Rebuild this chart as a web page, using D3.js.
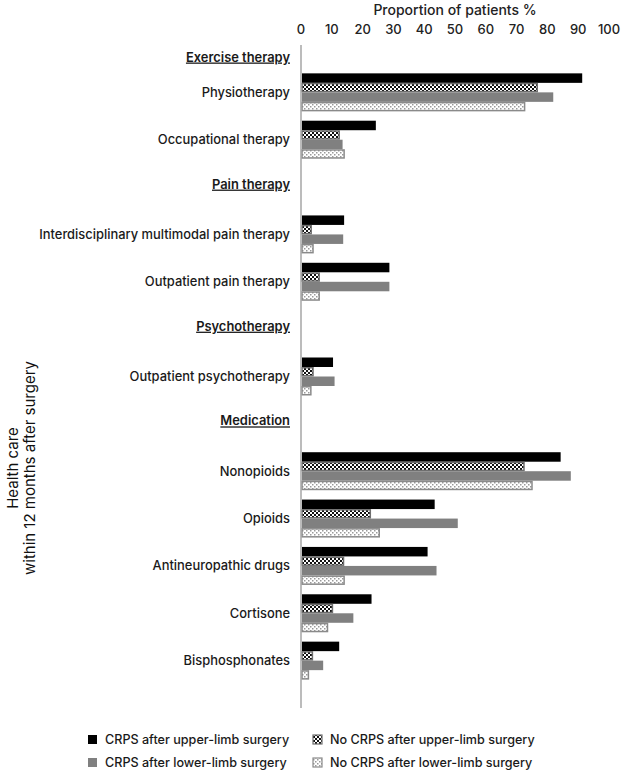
<!DOCTYPE html>
<html>
<head>
<meta charset="utf-8">
<script src="https://cdn.jsdelivr.net/npm/d3@7"></script>
<style>
  body { margin: 0; background: #fff; }
  svg { display: block; font-family: Inter, "Open Sans", sans-serif; }
</style>
</head>
<body>
<div id="chart"></div>
<script>
// health care within 12 months after surgery

const categories = ["Exercise therapy", "Physiotherapy", "Occupational therapy", "Pain therapy",
  "Interdisciplinary multimodal pain therapy", "Outpatient pain therapy", "Psychotherapy",
  "Outpatient psychotherapy", "Medication", "Nonopioids", "Opioids", "Antineuropathic drugs",
  "Cortisone", "Bisphosphonates"];
const headers = ["Exercise therapy", "Pain therapy", "Psychotherapy", "Medication"];

const seriesNames = ["CRPS after upper-limb surgery", "No CRPS after upper-limb surgery",
  "CRPS after lower-limb surgery", "No CRPS after lower-limb surgery"];

const crpsUpper   = [null, 91.3, 24.3, null, 14.0, 28.7, null, 10.4, null, 84.3, 43.4, 41.1, 22.9, 12.4];
const noCrpsUpper = [null, 76.7, 12.4, null, 3.3, 5.9, null, 3.9, null, 72.4, 22.5, 13.8, 10.2, 3.7];
const crpsLower   = [null, 81.9, 13.5, null, 13.7, 28.7, null, 10.9, null, 87.6, 50.9, 44.0, 17.0, 7.2];
const noCrpsLower = [null, 72.6, 14.0, null, 3.9, 5.9, null, 3.2, null, 75.0, 25.4, 14.0, 8.6, 2.4];

const xTicks = [0, 10, 20, 30, 40, 50, 60, 70, 80, 90, 100];

const width = 622;
const height = 773;
const svg = d3.select("#chart")
  .append("svg")
  .attr("width", width)
  .attr("height", height);

const defs = svg.append("defs");

// dark checker for no CRPS upper
const p1 = defs.append("pattern")
  .attr("id", "patUpper")
  .attr("patternUnits", "userSpaceOnUse")
  .attr("width", 4).attr("height", 4);
p1.append("rect").attr("width", 4).attr("height", 4).attr("fill", "#fff");
p1.append("rect").attr("x", 0).attr("y", 0).attr("width", 2).attr("height", 2).attr("fill", "#111");
p1.append("rect").attr("x", 2).attr("y", 2).attr("width", 2).attr("height", 2).attr("fill", "#111");

// light dots for no CRPS lower
const p2 = defs.append("pattern")
  .attr("id", "patLower")
  .attr("patternUnits", "userSpaceOnUse")
  .attr("width", 4).attr("height", 4);
p2.append("rect").attr("width", 4).attr("height", 4).attr("fill", "#fff");
p2.append("rect").attr("x", 0).attr("y", 0).attr("width", 1.5).attr("height", 1.5).attr("fill", "#9a9a9a");
p2.append("rect").attr("x", 2).attr("y", 2).attr("width", 1.5).attr("height", 1.5).attr("fill", "#9a9a9a");

const fills = ["#000", "url(#patUpper)", "#808080", "url(#patLower)"];
const strokes = ["none", "#6e6e6e", "none", "#8a8a8a"];

const x = d3.scaleLinear().domain([0, 100]).range([301, 609]);

// categories sit on tick marks, one empty slot at the end
const y = d3.scalePoint().domain(categories.concat([""])).range([45, 708]);

const sub = d3.scaleBand().domain(d3.range(4)).range([-19, 19]).padding(0);

// top axis
svg.append("text")
  .attr("x", 455).attr("y", 15)
  .attr("text-anchor", "middle")
  .attr("font-size", "14px")
  .attr("font-weight", 500)
  .attr("fill", "#222")
  .text("Proportion of patients %");

svg.selectAll(".tick-label")
  .data(xTicks)
  .enter()
  .append("text")
  .attr("class", "tick-label")
  .attr("x", d => x(d))
  .attr("y", 34)
  .attr("text-anchor", "middle")
  .attr("font-size", "13px")
  .attr("font-weight", 500)
  .attr("fill", "#222")
  .text(d => d);

// bars
const rows = [];
categories.forEach((c, i) => {
  [crpsUpper, noCrpsUpper, crpsLower, noCrpsLower].forEach((s, j) => {
    if (s[i] != null) rows.push({ cat: c, s: j, v: s[i] });
  });
});

svg.selectAll(".bar")
  .data(rows)
  .enter()
  .append("rect")
  .attr("class", "bar")
  .attr("x", x(0) + 1)
  .attr("y", d => y(d.cat) + sub(d.s) + (d.s % 2 ? 0.75 : 0))
  .attr("width", d => x(d.v) - x(0) - 1)
  .attr("height", d => sub.bandwidth() - (d.s % 2 ? 1.5 : 0))
  .attr("fill", d => fills[d.s])
  .attr("stroke", d => strokes[d.s])
  .attr("stroke-width", 1.5);

// category axis line
svg.append("line")
  .attr("x1", x(0)).attr("x2", x(0))
  .attr("y1", 45).attr("y2", 708)
  .attr("stroke", "#a6a6a6")
  .attr("stroke-width", 1.5);

// category labels
svg.selectAll(".cat-label")
  .data(categories)
  .enter()
  .append("text")
  .attr("class", "cat-label")
  .attr("x", 290)
  .attr("y", d => headers.includes(d) ? Math.max(y(d) - 3, 57) : y(d))
  .attr("dy", "0.35em")
  .attr("text-anchor", "end")
  .attr("font-size", "12.9px")
  .attr("font-weight", d => headers.includes(d) ? 600 : 500)
  .attr("text-decoration", d => headers.includes(d) ? "underline" : null)
  .attr("fill", "#1a1a1a")
  .text(d => d);

// y axis title
const yTitle = svg.append("text")
  .attr("transform", "translate(18,468) rotate(-90)")
  .attr("text-anchor", "middle")
  .attr("font-size", "15px")
  .attr("fill", "#111");
yTitle.append("tspan").attr("x", 0).attr("dy", 0).text("Health care");
yTitle.append("tspan").attr("x", 0).attr("dy", 17).text("within 12 months after surgery");

// legend
const legendPos = [[88, 740], [313, 740], [88, 763], [313, 763]];
const legend = svg.selectAll(".legend")
  .data(seriesNames)
  .enter()
  .append("g")
  .attr("class", "legend")
  .attr("transform", (d, i) => `translate(${legendPos[i][0]},${legendPos[i][1]})`);

legend.append("rect")
  .attr("x", 0).attr("y", -5)
  .attr("width", 9).attr("height", 9)
  .attr("fill", (d, i) => fills[i])
  .attr("stroke", (d, i) => strokes[i])
  .attr("stroke-width", 1.2);

legend.append("text")
  .attr("x", 17)
  .attr("y", 0)
  .attr("dy", "0.35em")
  .attr("font-size", "12.6px")
  .attr("font-weight", 500)
  .attr("fill", "#1a1a1a")
  .text(d => d);
</script>
</body>
</html>
